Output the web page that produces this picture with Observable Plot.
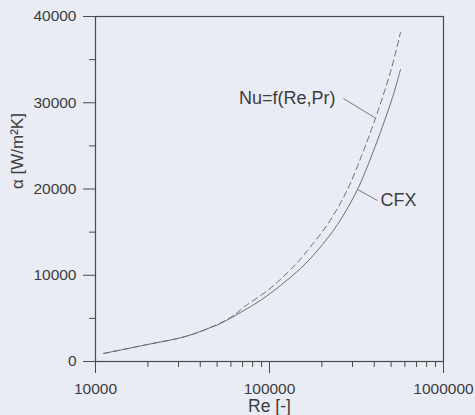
<!DOCTYPE html>
<html>
<head>
<meta charset="utf-8">
<script src="https://cdn.jsdelivr.net/npm/d3@7"></script>
<script src="https://cdn.jsdelivr.net/npm/@observablehq/plot@0.6"></script>
<style>
  html, body { margin: 0; padding: 0; background: #e9ecf4; }
  svg { display: block; }
</style>
</head>
<body>
<div id="chart"></div>
<script>
// CFX (solid) curve
const reSolid    = [11120, 19900, 32900, 45800, 52300, 68100, 88700, 115600, 150700, 188700, 245900, 320400, 390900, 446100, 509200, 566000];
const alphaSolid = [930,   1970,  2900,  3940,  4410,  5680,  7070,  8810,   10780,  12870,  15880,  19940,  24120,  27250,  30610,  33850];
// Nu=f(Re,Pr) (dashed) curve
const reDashed    = [11120, 19900, 32900, 45800, 59700, 74800, 97500, 120300, 144900, 165300, 215400, 280700, 342300, 390900, 446100, 502400, 566000];
const alphaDashed = [930,   1970,  2900,  3940,  5100,  6610,  8230,  9850,   11480,  12870,  15880,  19940,  24120,  27250,  30610,  33970,  38140];

// tick values
const xMajorTicks = [10000, 100000, 1000000];
const xMinorTicks = [20000, 30000, 40000, 50000, 60000, 70000, 80000, 90000,
                     200000, 300000, 400000, 500000, 600000, 700000, 800000, 900000];
const yMajorTicks = [0, 10000, 20000, 30000, 40000];
const yMinorTicks = [5000, 15000, 25000, 35000];

// annotations
const nuLabel = "Nu=f(Re,Pr)";
const nuLabelRe = 239400, nuLabelAlpha = 30490;
const cfxLabel = "CFX";
const cfxLabelRe = 434600, cfxLabelAlpha = 18670;
const leaderRe1    = [266000, 320400];
const leaderAlpha1 = [30490, 19940];
const leaderRe2    = [401000, 417500];
const leaderAlpha2 = [28290, 18670];

const xTitle = "Re [-]";
const yTitle = "α [W/m²K]";

const ink = "#3d3d3d";
const fmt = d3.format("d");

const chart = Plot.plot({
  width: 475,
  height: 415,
  marginLeft: 95,
  marginRight: 32,
  marginTop: 16,
  marginBottom: 54,
  style: { background: "#e9ecf4", fontFamily: "'Liberation Sans', Arial, sans-serif", color: ink },
  x: { type: "log", domain: [10000, 1000000] },
  y: { domain: [0, 40000] },
  marks: [
    Plot.frame({ stroke: "#4a4a4a", strokeWidth: 1.2 }),
    Plot.axisX(xMajorTicks, { tickSize: 12, tickPadding: 9, fontSize: 15.5, tickFormat: fmt, label: null, stroke: "#4a4a4a", fill: ink }),
    Plot.axisX(xMinorTicks, { tickSize: 6, tickFormat: () => "", label: null, stroke: "#4a4a4a" }),
    Plot.axisY(yMajorTicks, { tickSize: 12, tickPadding: 7, fontSize: 15.5, tickFormat: fmt, label: null, stroke: "#4a4a4a", fill: ink }),
    Plot.axisY(yMinorTicks, { tickSize: 6, tickFormat: () => "", label: null, stroke: "#4a4a4a" }),
    Plot.line(reSolid.map((r, i) => [r, alphaSolid[i]]), {
      x: d => d[0], y: d => d[1], stroke: "#6e6e6e", strokeWidth: 1, curve: "catmull-rom"
    }),
    Plot.line(reDashed.map((r, i) => [r, alphaDashed[i]]), {
      x: d => d[0], y: d => d[1], stroke: "#6e6e6e", strokeWidth: 1, strokeDasharray: "6,4", curve: "catmull-rom"
    }),
    Plot.link(leaderRe1.map((r, i) => i), {
      x1: i => leaderRe1[i], y1: i => leaderAlpha1[i],
      x2: i => leaderRe2[i], y2: i => leaderAlpha2[i],
      stroke: "#777", strokeWidth: 1
    }),
    Plot.text([nuLabel], { x: [nuLabelRe], y: [nuLabelAlpha], textAnchor: "end", fontSize: 18, fill: ink }),
    Plot.text([cfxLabel], { x: [cfxLabelRe], y: [cfxLabelAlpha], textAnchor: "start", fontSize: 18, fill: ink }),
    Plot.text([xTitle], { frameAnchor: "bottom", dy: 45, fontSize: 17.5, fill: ink, lineAnchor: "middle" }),
    Plot.text([yTitle], { frameAnchor: "left", dx: -78, rotate: -90, fontSize: 17, fill: ink, lineAnchor: "middle" })
  ]
});
document.getElementById("chart").appendChild(chart);
</script>
</body>
</html>
